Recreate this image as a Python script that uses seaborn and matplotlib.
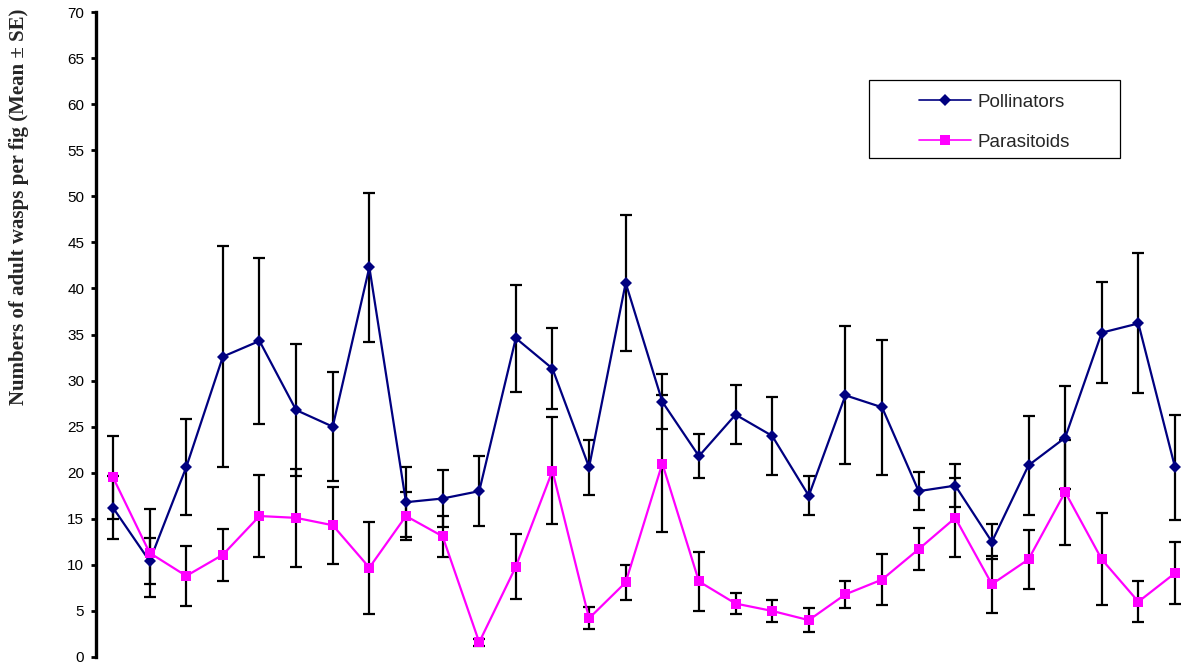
import numpy as np
import pandas as pd
import seaborn as sns
import matplotlib
matplotlib.use("Agg")
import matplotlib.pyplot as plt
from matplotlib.patches import Rectangle

# sampling occasions 1..30
occasions = list(range(1, 31))

pollinators = [16.2, 10.4, 20.6, 32.6, 34.3, 26.8, 25.0, 42.3, 16.8, 17.2,
               18.0, 34.6, 31.3, 20.6, 40.6, 27.7, 21.8, 26.3, 24.0, 17.5,
               28.4, 27.1, 18.0, 18.6, 12.5, 20.8, 23.8, 35.2, 36.2, 20.6]
pollinators_se = [3.4, 2.5, 5.2, 12.0, 9.0, 7.2, 5.9, 8.1, 3.8, 3.1,
                  3.8, 5.8, 4.4, 3.0, 7.4, 3.0, 2.4, 3.2, 4.2, 2.1,
                  7.5, 7.3, 2.1, 2.3, 1.9, 5.4, 5.6, 5.5, 7.6, 5.7]

parasitoids = [19.5, 11.3, 8.8, 11.1, 15.3, 15.1, 14.3, 9.7, 15.3, 13.1,
               1.6, 9.8, 20.2, 4.2, 8.1, 21.0, 8.2, 5.8, 5.0, 4.0,
               6.8, 8.4, 11.7, 15.1, 7.9, 10.6, 17.9, 10.6, 6.0, 9.1]
parasitoids_se = [4.5, 4.8, 3.3, 2.8, 4.4, 5.3, 4.2, 5.0, 2.6, 2.2,
                  0.4, 3.5, 5.8, 1.2, 1.9, 7.4, 3.2, 1.1, 1.2, 1.3,
                  1.5, 2.8, 2.3, 4.3, 3.1, 3.2, 5.7, 5.0, 2.2, 3.4]

df = pd.DataFrame({
    'occasion': occasions * 2,
    'wasps': pollinators + parasitoids,
    'se': pollinators_se + parasitoids_se,
    'group': ['Pollinators'] * 30 + ['Parasitoids'] * 30,
})

sns.set_style('white')
plt.rcParams['font.family'] = ['Liberation Sans', 'DejaVu Sans']

fig = plt.figure(figsize=(11.91, 6.63), dpi=100)
ax = fig.add_axes([96 / 1191, 1 - 657 / 663, 1 - 96 / 1191, 645 / 663])

# error bars first, series on top
for name, d in df.groupby('group', sort=False):
    ax.errorbar(d['occasion'], d['wasps'], yerr=d['se'], fmt='none',
                ecolor='black', elinewidth=1.6, capsize=4.5, capthick=1.6, zorder=2)

sns.lineplot(data=df, x='occasion', y='wasps', hue='group', style='group',
             palette={'Pollinators': '#000080', 'Parasitoids': '#FF00FF'},
             markers={'Pollinators': 'D', 'Parasitoids': 's'},
             dashes=False, linewidth=1.6, markersize=6.5, markeredgewidth=0,
             ax=ax, zorder=3, legend=True)

for line in ax.lines:
    if line.get_marker() == 's':
        line.set_markersize(7)

ax.set_xlim(1 - 17 / 36.6, 30 + 16 / 36.6)
ax.set_ylim(0, 70)
ax.set_yticks(np.arange(0, 71, 5))
ax.set_xticks([])
ax.set_xlabel('')

for s in ['top', 'right', 'bottom']:
    ax.spines[s].set_visible(False)
ax.spines['left'].set_linewidth(2.4)
ax.spines['left'].set_color('black')
ax.tick_params(axis='y', direction='out', length=3.5, width=2, colors='black',
               labelsize=11, pad=5, left=True)

ax.set_ylabel('Numbers of adult wasps per fig (Mean \u00b1 SE)',
              family=['Liberation Serif', 'DejaVu Serif'], fontweight='bold', fontsize=15)
ax.yaxis.set_label_coords(-0.061, 0.698)

handles, labels = ax.get_legend_handles_labels()
leg = ax.legend(handles, labels, loc='center left', bbox_to_anchor=(0.7434, 0.829),
                frameon=False, fontsize=13.5, handlelength=2.77, handletextpad=0.32,
                labelspacing=1.24, borderpad=0)
for h in leg.legend_handles:
    h.set_linewidth(1.2)
ax.add_patch(Rectangle((0.7059, 0.7736), 0.2292, 0.1209, transform=ax.transAxes,
                       fill=False, edgecolor='black', linewidth=0.9, clip_on=False))

fig.savefig('out.png', dpi=100)
